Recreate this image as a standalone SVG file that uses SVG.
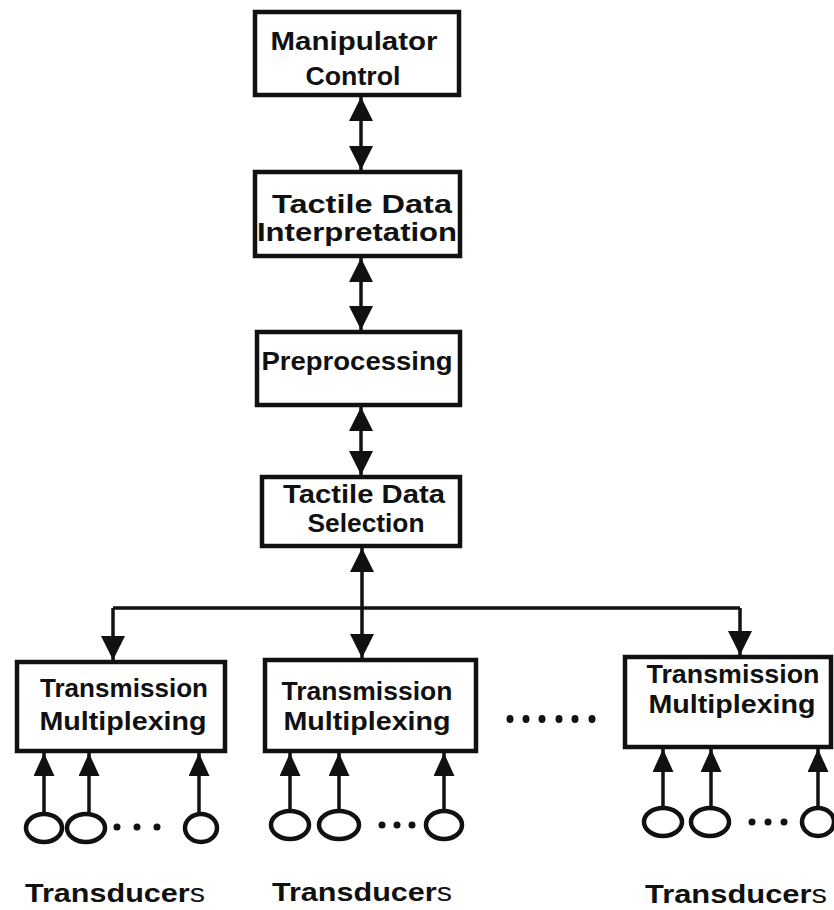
<svg xmlns="http://www.w3.org/2000/svg" width="834" height="910" viewBox="0 0 834 910">
<style>
.box{fill:#fff;stroke:#111;stroke-width:4.5}
.t{font-family:"Liberation Sans",Arial,sans-serif;font-weight:bold;font-size:25px;fill:#111;text-anchor:middle}
.lbl{font-family:"Liberation Sans",Arial,sans-serif;font-weight:bold;font-size:25px;fill:#111}
.ln{fill:none;stroke:#111;stroke-width:3.5}
.big{marker-start:url(#hb);marker-end:url(#hb)}
.one{marker-end:url(#hb)}
.sm{marker-end:url(#hs)}
.tr{fill:none;stroke:#111;stroke-width:4.5}
.dot{fill:#111}
</style>
<defs>
<marker id="hb" markerUnits="userSpaceOnUse" viewBox="0 0 24 24" markerWidth="24" markerHeight="24" refX="24" refY="12" orient="auto-start-reverse">
<path d="M0,0 L24,12 L0,24 z" fill="#111"/>
</marker>
<marker id="hs" markerUnits="userSpaceOnUse" viewBox="0 0 23 21" markerWidth="23" markerHeight="21" refX="23" refY="10.5" orient="auto">
<path d="M0,0 L23,10.5 L0,21 z" fill="#111"/>
</marker>
</defs>

<g id="connectors">
<path class="ln big" d="M361,97 V170"/>
<path class="ln big" d="M361,258 V330"/>
<path class="ln big" d="M361,407 V475"/>
<path class="ln big" d="M362,548 V658"/>
<path class="ln" d="M113,608 H740"/>
<path class="ln one" d="M113,608 V660"/>
<path class="ln one" d="M740,608 V655"/>
<path class="ln sm" d="M44,814 V753"/>
<path class="ln sm" d="M89,814 V753"/>
<path class="ln sm" d="M199,814 V753"/>
<path class="ln sm" d="M290,811 V753"/>
<path class="ln sm" d="M339,811 V753"/>
<path class="ln sm" d="M444,811 V753"/>
<path class="ln sm" d="M663,808 V749"/>
<path class="ln sm" d="M711,808 V749"/>
<path class="ln sm" d="M818,808 V749"/>
</g>

<g id="manipulator-control">
<rect class="box" x="255" y="12" width="204" height="83"/>
<text class="t" x="354" y="50" textLength="167" lengthAdjust="spacingAndGlyphs">Manipulator</text>
<text class="t" x="353" y="85" textLength="95" lengthAdjust="spacingAndGlyphs">Control</text>
</g>
<g id="tactile-data-interpretation">
<rect class="box" x="255" y="172" width="205" height="84"/>
<text class="t" x="362" y="213" textLength="180" lengthAdjust="spacingAndGlyphs">Tactile Data</text>
<text class="t" x="357" y="241" textLength="200" lengthAdjust="spacingAndGlyphs">Interpretation</text>
</g>
<g id="preprocessing">
<rect class="box" x="257" y="332" width="203" height="73"/>
<text class="t" x="357" y="370" textLength="191" lengthAdjust="spacingAndGlyphs">Preprocessing</text>
</g>
<g id="tactile-data-selection">
<rect class="box" x="262" y="477" width="198" height="69"/>
<text class="t" x="364" y="503" textLength="162" lengthAdjust="spacingAndGlyphs">Tactile Data</text>
<text class="t" x="366" y="532" textLength="117" lengthAdjust="spacingAndGlyphs">Selection</text>
</g>

<g id="tm-left">
<rect class="box" x="17" y="662" width="208" height="89"/>
<text class="t" x="124" y="697" textLength="168" lengthAdjust="spacingAndGlyphs">Transmission</text>
<text class="t" x="123" y="730" textLength="167" lengthAdjust="spacingAndGlyphs">Multiplexing</text>
</g>
<g id="tm-middle">
<rect class="box" x="265" y="660" width="211" height="91"/>
<text class="t" x="367" y="700" textLength="171" lengthAdjust="spacingAndGlyphs">Transmission</text>
<text class="t" x="367" y="730" textLength="167" lengthAdjust="spacingAndGlyphs">Multiplexing</text>
</g>
<g id="tm-right">
<rect class="box" x="625" y="657" width="206" height="90"/>
<text class="t" x="733" y="683" textLength="173" lengthAdjust="spacingAndGlyphs">Transmission</text>
<text class="t" x="732" y="713" textLength="167" lengthAdjust="spacingAndGlyphs">Multiplexing</text>
</g>

<g id="ellipsis">
<ellipse class="dot" cx="510" cy="719" rx="3.5" ry="4"/>
<ellipse class="dot" cx="526" cy="719" rx="3.5" ry="4"/>
<ellipse class="dot" cx="542" cy="719" rx="3.5" ry="4"/>
<ellipse class="dot" cx="559" cy="719" rx="3.5" ry="4"/>
<ellipse class="dot" cx="575" cy="719" rx="3.5" ry="4"/>
<ellipse class="dot" cx="592" cy="719" rx="3.5" ry="4"/>
</g>

<g id="transducers-left">
<ellipse class="tr" cx="44" cy="828" rx="18" ry="14"/>
<ellipse class="tr" cx="86" cy="828" rx="19" ry="14"/>
<ellipse class="tr" cx="201" cy="828" rx="16" ry="14"/>
<circle class="dot" cx="117" cy="827" r="3.5"/>
<circle class="dot" cx="137" cy="827" r="3.5"/>
<circle class="dot" cx="157" cy="827" r="3.5"/>
<text class="lbl" x="25" y="902" textLength="180" lengthAdjust="spacingAndGlyphs">Transducer<tspan font-weight="normal">s</tspan></text>
</g>
<g id="transducers-middle">
<ellipse class="tr" cx="290" cy="825" rx="19" ry="14"/>
<ellipse class="tr" cx="339" cy="825" rx="20" ry="14"/>
<ellipse class="tr" cx="444" cy="825" rx="18" ry="14"/>
<circle class="dot" cx="382" cy="825" r="3.5"/>
<circle class="dot" cx="397" cy="825" r="3.5"/>
<circle class="dot" cx="412" cy="825" r="3.5"/>
<text class="lbl" x="272" y="901" textLength="180" lengthAdjust="spacingAndGlyphs">Transducer<tspan font-weight="normal">s</tspan></text>
</g>
<g id="transducers-right">
<ellipse class="tr" cx="663" cy="822" rx="19" ry="14"/>
<ellipse class="tr" cx="710" cy="822" rx="19" ry="14"/>
<ellipse class="tr" cx="818" cy="822" rx="16" ry="14"/>
<circle class="dot" cx="752" cy="822" r="3.5"/>
<circle class="dot" cx="768" cy="822" r="3.5"/>
<circle class="dot" cx="784" cy="822" r="3.5"/>
<text class="lbl" x="645" y="903" textLength="182" lengthAdjust="spacingAndGlyphs">Transducer<tspan font-weight="normal">s</tspan></text>
</g>
</svg>
